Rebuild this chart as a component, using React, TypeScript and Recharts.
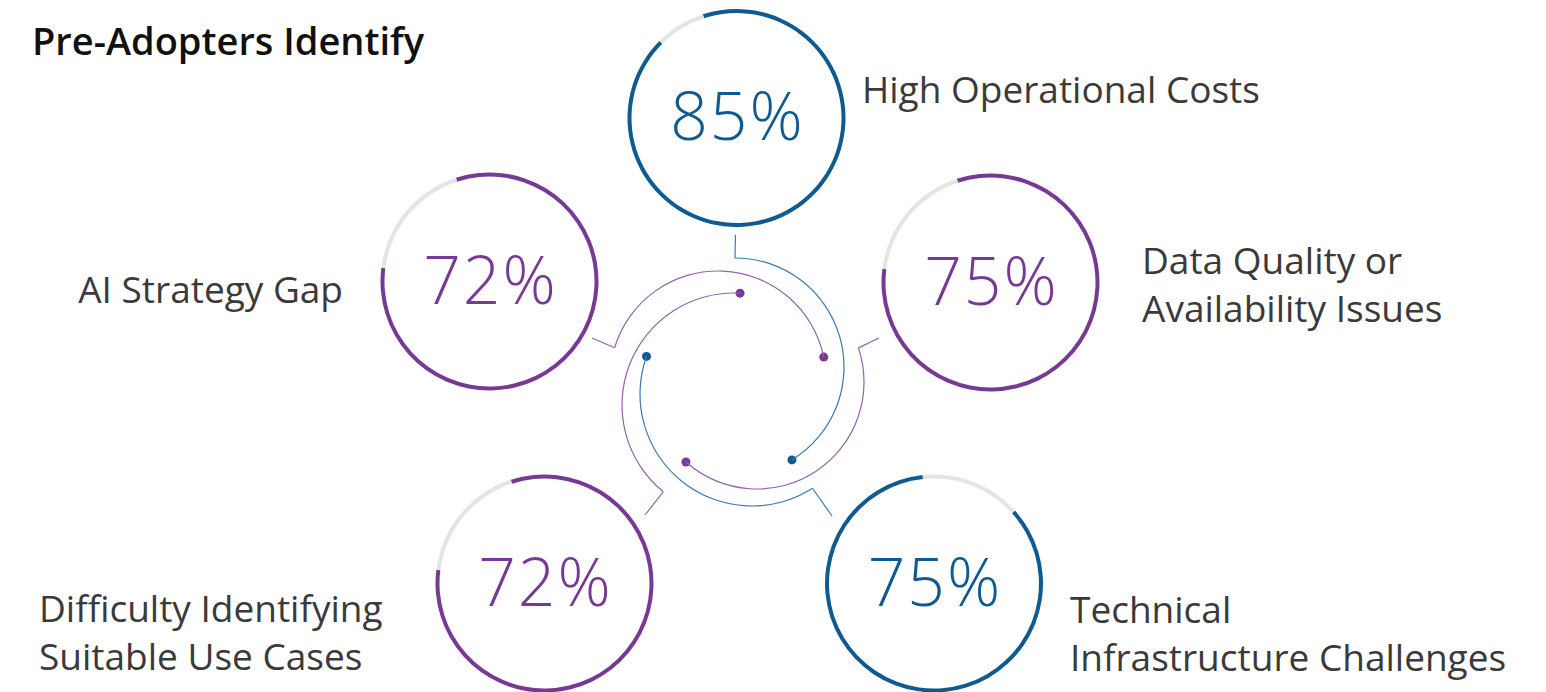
import React from "react";
import { PieChart, Pie, Cell, Customized } from "recharts";

const W = 1546;
const H = 692;

const BLUE = "#0E5A91";
const PURPLE = "#773A94";
const GREY = "#E3E4E5";
const BLUE_LINE = "#3B7BAE";
const PURPLE_LINE = "#9562AB";
const TEXT = "#3A3A3A";
const FONT = "'Open Sans', 'Noto Sans', sans-serif";

const title = "Pre-Adopters Identify";
// one entry per ring, top ring first, then clockwise
const categories = [
  ["High Operational Costs"],
  ["Data Quality or", "Availability Issues"],
  ["Technical", "Infrastructure Challenges"],
  ["Difficulty Identifying", "Suitable Use Cases"],
  ["AI Strategy Gap"],
];
const percentages = [85, 75, 75, 72, 72];
// coloured share of each ring as drawn in the picture (%)
const ringFilled = [92.5, 82, 85, 82, 82];
// where the grey gap ends, degrees clockwise from 12 o'clock
const gapEnd = [-18, -18, 48, -18, -18];

const RING_OUT = 109;
const RING_IN = 105;

const ringLayout = [
  { cx: 736.5, cy: 118, color: BLUE },
  { cx: 990.5, cy: 282.5, color: PURPLE },
  { cx: 934, cy: 583.5, color: BLUE },
  { cx: 544.5, cy: 583.5, color: PURPLE },
  { cx: 489.5, cy: 281.5, color: PURPLE },
];

const labelLayout = [
  { x: 862, y: 103, anchor: "start" },
  { x: 1142, y: 274, anchor: "start" },
  { x: 1070, y: 623, anchor: "start" },
  { x: 39, y: 622, anchor: "start" },
  { x: 343, y: 303, anchor: "end" },
];

// decorative swirl in the middle, one arc per ring (angles clockwise from top)
const swirls = [
  { cx: 735, cy: 367, r: 109, from: 0, to: 148.5, tick: [735.5, 235] },
  { cx: 757, cy: 382, r: 107, from: 71.4, to: 221.6, tick: [879, 338] },
  { cx: 752, cy: 394, r: 112, from: 147.3, to: 289.6, tick: [832, 516] },
  { cx: 734, cy: 405, r: 112, from: 219.2, to: 363.1, tick: [645, 515] },
  { cx: 718, cy: 379, r: 108, from: -73.2, to: 78.3, tick: [592, 338] },
];

const polar = (cx: number, cy: number, r: number, deg: number) => {
  const a = (deg * Math.PI) / 180;
  return [cx + r * Math.sin(a), cy - r * Math.cos(a)];
};

function Overlay() {
  return (
    <g>
      <text x={32} y={55} fontFamily={FONT} fontSize={38} fontWeight={600} fill="#111">
        {title}
      </text>
      {swirls.map((s, i) => {
        const isBlue = ringLayout[i].color === BLUE;
        const start = polar(s.cx, s.cy, s.r, s.from);
        const end = polar(s.cx, s.cy, s.r, s.to);
        return (
          <g key={"sw" + i}>
            <line
              x1={s.tick[0]}
              y1={s.tick[1]}
              x2={start[0]}
              y2={start[1]}
              stroke={isBlue ? BLUE_LINE : PURPLE_LINE}
              strokeWidth={1.2}
            />
            <circle cx={end[0]} cy={end[1]} r={4.5} fill={ringLayout[i].color} />
          </g>
        );
      })}
      {percentages.map((p, i) => (
        <text
          key={"pct" + i}
          x={ringLayout[i].cx + 1}
          y={ringLayout[i].cy + 22}
          textAnchor="middle"
          fontFamily={FONT}
          fontSize={66}
          fontWeight={300}
          letterSpacing={2}
          fill={ringLayout[i].color}
        >
          {p}%
        </text>
      ))}
      {categories.map((lines, i) => (
        <text
          key={"lab" + i}
          x={labelLayout[i].x}
          y={labelLayout[i].y}
          textAnchor={labelLayout[i].anchor as any}
          fontFamily={FONT}
          fontSize={37}
          fill={TEXT}
        >
          {lines.map((ln, j) => (
            <tspan key={j} x={labelLayout[i].x} dy={j === 0 ? 0 : 47.5}>
              {ln}
            </tspan>
          ))}
        </text>
      ))}
    </g>
  );
}

export default function App() {
  return (
    <div style={{ position: "absolute", left: 0, top: 0, width: W, height: H, background: "#fff" }}>
      <PieChart width={W} height={H} margin={{ top: 0, right: 0, bottom: 0, left: 0 }}>
        {swirls.map((s, i) => (
          <Pie
            key={"arc" + i}
            data={[{ name: "arc", value: 1 }]}
            dataKey="value"
            cx={s.cx}
            cy={s.cy}
            innerRadius={s.r - 0.6}
            outerRadius={s.r + 0.6}
            startAngle={90 - s.from}
            endAngle={90 - s.to}
            stroke="none"
            isAnimationActive={false}
          >
            <Cell fill={ringLayout[i].color === BLUE ? BLUE_LINE : PURPLE_LINE} />
          </Pie>
        ))}
        {percentages.map((p, i) => (
          <Pie
            key={"ring" + i}
            data={[
              { name: "filled", value: ringFilled[i] },
              { name: "rest", value: 100 - ringFilled[i] },
            ]}
            dataKey="value"
            cx={ringLayout[i].cx}
            cy={ringLayout[i].cy}
            innerRadius={RING_IN}
            outerRadius={RING_OUT}
            startAngle={90 - gapEnd[i]}
            endAngle={90 - gapEnd[i] - 360}
            stroke="none"
            isAnimationActive={false}
          >
            <Cell fill={ringLayout[i].color} />
            <Cell fill={GREY} />
          </Pie>
        ))}
        <Customized component={Overlay} />
      </PieChart>
    </div>
  );
}
